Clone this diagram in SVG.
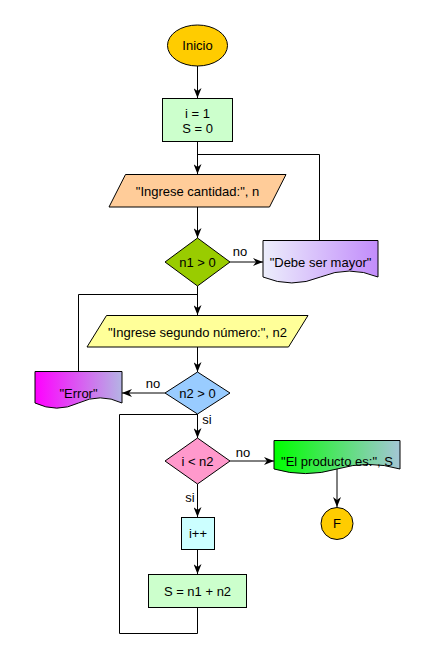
<svg xmlns="http://www.w3.org/2000/svg" width="437" height="660" viewBox="0 0 437 660">
  <defs>
    <style>
      .shape { stroke: #000; stroke-width: 1; }
      .edge { fill: none; stroke: #000; stroke-width: 1; }
      .arrow { marker-end: url(#arr); }
      text { font-family: "Liberation Sans", Arial, Helvetica, sans-serif; font-size: 13px; fill: #000; text-anchor: middle; dominant-baseline: central; }
    </style>
    <marker id="arr" markerWidth="10" markerHeight="8" refX="10" refY="4" orient="auto" markerUnits="userSpaceOnUse">
      <path d="M0,0 L10,4 L0,8 L3,4 Z" fill="#000"/>
    </marker>
    <linearGradient id="gMayor" x1="0" y1="0" x2="1" y2="0">
      <stop offset="0" stop-color="#eceefb"/>
      <stop offset="1" stop-color="#c28cfb"/>
    </linearGradient>
    <linearGradient id="gError" x1="0" y1="0" x2="1" y2="0">
      <stop offset="0" stop-color="#ff00ff"/>
      <stop offset="1" stop-color="#b4b4e4"/>
    </linearGradient>
    <linearGradient id="gProducto" x1="0" y1="0" x2="1" y2="0">
      <stop offset="0" stop-color="#00ff00"/>
      <stop offset="1" stop-color="#a4c6d6"/>
    </linearGradient>
  </defs>
  <rect width="437" height="660" fill="#fff"/>

  <!-- connectors -->
  <g id="edges">
    <path class="edge arrow" d="M197.5,66 V98"/>
    <path class="edge arrow" d="M197.5,141.5 V174"/>
    <path class="edge arrow" d="M197.5,207 V238"/>
    <path class="edge arrow" d="M230,262 H263"/>
    <path class="edge" d="M319.5,240 V154.5 H197.5"/>
    <path class="edge arrow" d="M197.5,286 V315"/>
    <path class="edge arrow" d="M197.5,347 V372"/>
    <path class="edge arrow" d="M165,393 H122"/>
    <path class="edge" d="M78.5,371 V294.5 H197.5"/>
    <path class="edge arrow" d="M197.5,414 V438"/>
    <path class="edge arrow" d="M230,461 H274"/>
    <path class="edge arrow" d="M337,469 V507"/>
    <path class="edge arrow" d="M197.5,484 V517"/>
    <path class="edge arrow" d="M197.5,549.5 V574"/>
    <path class="edge" d="M197.5,607.5 V633.5 H119.5 V414.5 H197.5"/>
    <text x="240" y="251">no</text>
    <text x="153" y="383">no</text>
    <text x="207" y="419">si</text>
    <text x="243" y="452">no</text>
    <text x="190" y="497">si</text>
  </g>

  <g id="inicio">
    <ellipse class="shape" cx="197.5" cy="45.5" rx="30" ry="20.5" fill="#ffcc00"/>
    <text x="197.5" y="45.5">Inicio</text>
  </g>

  <g id="init">
    <rect class="shape" x="162.5" y="98.5" width="70" height="43" fill="#ccffcc"/>
    <text x="197.5" y="113">i = 1</text>
    <text x="197.5" y="128">S = 0</text>
  </g>

  <g id="leer-n">
    <polygon class="shape" points="125.5,174.5 286,174.5 269.5,207 109,207" fill="#ffcc99"/>
    <text x="197.5" y="191">"Ingrese cantidad:", n</text>
  </g>

  <g id="cond-n1">
    <polygon class="shape" points="197.5,238 230,262 197.5,286 165,262" fill="#99cc00"/>
    <text x="197.5" y="262">n1 &gt; 0</text>
  </g>

  <g id="msg-mayor">
    <path class="shape" d="M263,240.5 H378 V277 Q349.25,265.1 320.5,277 Q291.75,288.9 263,277 Z" fill="url(#gMayor)"/>
    <text x="320.5" y="262">"Debe ser mayor"</text>
  </g>

  <g id="leer-n2">
    <polygon class="shape" points="106.5,315.5 308,315.5 288.5,347 87,347" fill="#ffff99"/>
    <text x="197.5" y="332">"Ingrese segundo número:", n2</text>
  </g>

  <g id="cond-n2">
    <polygon class="shape" points="197.5,372 230,393 197.5,414 165,393" fill="#99ccff"/>
    <text x="197.5" y="393">n2 &gt; 0</text>
  </g>

  <g id="msg-error">
    <path class="shape" d="M35,371.5 H122 V403 Q100.25,392.7 78.5,403 Q56.75,413.3 35,403 Z" fill="url(#gError)"/>
    <text x="78.5" y="393">"Error"</text>
  </g>

  <g id="cond-i">
    <polygon class="shape" points="197.5,438 230,461 197.5,484 165,461" fill="#ff99cc"/>
    <text x="197.5" y="461">i &lt; n2</text>
  </g>

  <g id="msg-producto">
    <path class="shape" d="M274,440.5 H400 V469 Q368.5,459.8 337,469 Q305.5,478.2 274,469 Z" fill="url(#gProducto)"/>
    <text x="337" y="461">"El producto es:", S</text>
  </g>

  <g id="fin">
    <circle class="shape" cx="337" cy="523.5" r="16" fill="#ffcc00"/>
    <text x="337" y="523.5">F</text>
  </g>

  <g id="incremento">
    <rect class="shape" x="181.5" y="517.5" width="33" height="32" fill="#ccffff"/>
    <text x="198" y="533.5">i++</text>
  </g>

  <g id="suma">
    <rect class="shape" x="148.5" y="574.5" width="98" height="33" fill="#ccffcc"/>
    <text x="197.5" y="591">S = n1 + n2</text>
  </g>
</svg>
